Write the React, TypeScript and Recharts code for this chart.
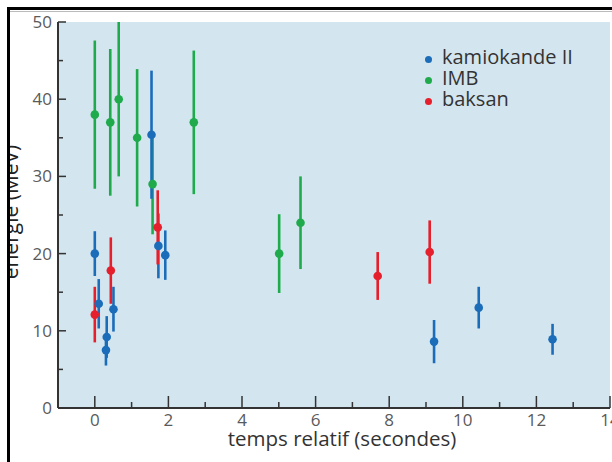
import React from 'react';
import { ScatterChart, Scatter, XAxis, YAxis, ErrorBar, CartesianGrid, Legend } from 'recharts';

// temps relatif (s), énergie (MeV), erreur
const kamT = [0, 0.107, 0.303, 0.324, 0.507, 1.541, 1.728, 1.915, 9.219, 10.433, 12.439];
const kamE = [20.0, 13.5, 7.5, 9.2, 12.8, 35.4, 21.0, 19.8, 8.6, 13.0, 8.9];
const kamErr = [2.9, 3.2, 2.0, 2.7, 2.9, 8.3, 4.2, 3.2, 2.8, 2.7, 2.0];

const imbT = [0, 0.42, 0.65, 1.15, 1.57, 2.69, 5.01, 5.59];
const imbE = [38, 37, 40, 35, 29, 37, 20, 24];
const imbErr = [9.6, 9.5, 10, 8.9, 6.5, 9.3, 5.1, 6.0];

const bakT = [0, 0.435, 1.71, 7.687, 9.1];
const bakE = [12.1, 17.8, 23.4, 17.1, 20.2];
const bakErr = [3.6, 4.3, 4.8, 3.1, 4.1];

const xTicks = [-1, 0, 1, 2, 3, 4, 5, 6, 7, 8, 9, 10, 11, 12, 13, 14];
const yTicks = [0, 5, 10, 15, 20, 25, 30, 35, 40, 45, 50];

const FONT = '"Open Sans", sans-serif';
const AXIS = '#333';

const toRows = (t: number[], e: number[], err: number[]) =>
  t.map((v, i) => ({ t: v, e: e[i], err: err[i] }));

const series = [
  { name: 'kamiokande II', color: '#1b6dba', data: toRows(kamT, kamE, kamErr) },
  { name: 'IMB', color: '#1fab4c', data: toRows(imbT, imbE, imbErr) },
  { name: 'baksan', color: '#e51f2b', data: toRows(bakT, bakE, bakErr) },
];
// draw order: IMB under, then kamiokande, then baksan
const drawOrder = [1, 0, 2];

const BottomTick = (p: any) => {
  const v = p.payload.value;
  if (v < 0) return <g />;
  const major = v % 2 === 0;
  return (
    <g>
      <line x1={p.x} x2={p.x} y1={p.y} y2={p.y - (major ? 12 : 6)} stroke={AXIS} strokeWidth={1.5} />
      {major && (
        <text x={p.x} y={p.y + 18} textAnchor="middle" fontFamily={FONT} fontSize={17} fill="#5a5a5a">
          {v}
        </text>
      )}
    </g>
  );
};

const TopTick = (p: any) => {
  const v = p.payload.value;
  if (v < 0) return <g />;
  const major = v % 2 === 0;
  return <line x1={p.x} x2={p.x} y1={p.y} y2={p.y + (major ? 11 : 6)} stroke={AXIS} strokeWidth={1.5} />;
};

const LeftTick = (p: any) => {
  const v = p.payload.value;
  const major = v % 10 === 0;
  return (
    <g>
      <line x1={p.x} x2={p.x + (major ? 8 : 5)} y1={p.y} y2={p.y} stroke={AXIS} strokeWidth={1.5} />
      {major && (
        <text x={p.x - 6} y={p.y + 6} textAnchor="end" fontFamily={FONT} fontSize={17} fill="#5a5a5a">
          {v}
        </text>
      )}
    </g>
  );
};

const RightTick = (p: any) => {
  const v = p.payload.value;
  const major = v % 10 === 0;
  return <line x1={p.x} x2={p.x - (major ? 12 : 7)} y1={p.y} y2={p.y} stroke={AXIS} strokeWidth={1.5} />;
};

const Dot = (color: string) => (p: any) => <circle cx={p.cx} cy={p.cy} r={4.3} fill={color} />;

const LegendBox = () => (
  <div style={{ fontFamily: FONT, fontSize: 20, color: '#333', lineHeight: '21px' }}>
    {series.map((s) => (
      <div key={s.name} style={{ display: 'flex', alignItems: 'flex-start', whiteSpace: 'nowrap' }}>
        <span
          style={{
            width: 7,
            height: 7,
            borderRadius: '50%',
            background: s.color,
            marginTop: 10,
            marginRight: 10,
            flex: 'none',
          }}
        />
        {s.name}
      </div>
    ))}
  </div>
);

export default function App() {
  return (
    <div
      style={{
        position: 'absolute',
        left: 0,
        top: 0,
        width: 612,
        height: 462,
        overflow: 'hidden',
        background: '#fff',
      }}
    >
      <ScatterChart width={612} height={462} margin={{ top: 22, right: 2, bottom: 0, left: 0 }}>
        <CartesianGrid fill="#d3e5ef" stroke="none" horizontal={false} vertical={false} />
        <XAxis
          xAxisId="b"
          dataKey="t"
          type="number"
          domain={[-1, 14]}
          ticks={xTicks}
          interval={0}
          allowDataOverflow
          height={54}
          tickSize={0}
          tickMargin={0}
          tickLine={false}
          tick={BottomTick}
          axisLine={{ stroke: AXIS, strokeWidth: 2 }}
          label={{
            content: () => (
              <text x={342} y={446} textAnchor="middle" fontFamily={FONT} fontSize={20.5} fill="#333">
                temps relatif (secondes)
              </text>
            ),
          }}
        />
        <XAxis
          xAxisId="top"
          orientation="top"
          type="number"
          domain={[-1, 14]}
          ticks={xTicks}
          interval={0}
          allowDataOverflow
          height={0}
          tickSize={0}
          tickMargin={0}
          tickLine={false}
          tick={TopTick}
          axisLine={{ stroke: AXIS, strokeWidth: 1.5 }}
        />
        <YAxis
          yAxisId="l"
          dataKey="e"
          type="number"
          domain={[0, 50]}
          ticks={yTicks}
          interval={0}
          allowDataOverflow
          width={58}
          tickSize={0}
          tickMargin={0}
          tickLine={false}
          tick={LeftTick}
          axisLine={{ stroke: AXIS, strokeWidth: 2 }}
          label={{
            content: () => (
              <text
                x={18}
                y={212}
                transform="rotate(-90 18 212)"
                textAnchor="middle"
                fontFamily={FONT}
                fontSize={21}
                fill="#222"
              >
                énergie (MeV)
              </text>
            ),
          }}
        />
        <YAxis
          yAxisId="r"
          orientation="right"
          type="number"
          domain={[0, 50]}
          ticks={yTicks}
          interval={0}
          allowDataOverflow
          width={0}
          tickSize={0}
          tickMargin={0}
          tickLine={false}
          tick={RightTick}
          axisLine={{ stroke: AXIS, strokeWidth: 1.5 }}
        />
        <Legend
          layout="vertical"
          align="center"
          verticalAlign="middle"
          content={LegendBox}
          wrapperStyle={{ top: 46, left: 425, width: 180, height: 70 }}
        />
        {drawOrder.map((i) => {
          const s = series[i];
          return (
            <Scatter
              key={s.name}
              name={s.name}
              data={s.data}
              xAxisId="b"
              yAxisId="l"
              fill={s.color}
              shape={Dot(s.color)}
              isAnimationActive={false}
            >
              <ErrorBar
                dataKey="err"
                direction="y"
                width={0}
                stroke={s.color}
                strokeWidth={2.6}
                isAnimationActive={false}
              />
            </Scatter>
          );
        })}
      </ScatterChart>
      <div style={{ position: 'absolute', left: 0, top: 0, width: 7, height: 462, background: '#fff' }} />
      <div style={{ position: 'absolute', left: 0, top: 0, width: 612, height: 7, background: '#fff' }} />
      <div style={{ position: 'absolute', left: 7, top: 7, width: 3, height: 455, background: '#000' }} />
      <div style={{ position: 'absolute', left: 7, top: 7, width: 605, height: 3, background: '#000' }} />
      <div style={{ position: 'absolute', left: 10, top: 11, width: 602, height: 1, background: '#bbb' }} />
    </div>
  );
}
